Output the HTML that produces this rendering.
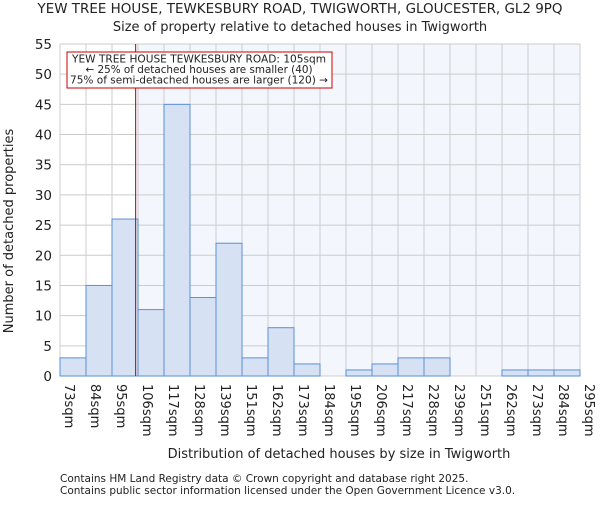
<!DOCTYPE html>
<html><head><meta charset="utf-8"><style>
body{margin:0;background:#fff}
svg text{font-family:"DejaVu Sans","Liberation Sans",sans-serif;fill:#222}
</style></head><body>
<svg id="c" width="600" height="500" xmlns="http://www.w3.org/2000/svg">
<text x="300" y="13" font-size="13" text-anchor="middle" textLength="525" lengthAdjust="spacingAndGlyphs">YEW TREE HOUSE, TEWKESBURY ROAD, TWIGWORTH, GLOUCESTER, GL2 9PQ</text>
<text x="300" y="31" font-size="13" text-anchor="middle">Size of property relative to detached houses in Twigworth</text>
<g id="plot"></g>
<text x="339" y="458" font-size="13" text-anchor="middle">Distribution of detached houses by size in Twigworth</text>
<text transform="translate(13,231) rotate(-90)" font-size="13" text-anchor="middle">Number of detached properties</text>
<text x="60" y="482" font-size="10.5">Contains HM Land Registry data © Crown copyright and database right 2025.</text>
<text x="60" y="494" font-size="10.5">Contains public sector information licensed under the Open Government Licence v3.0.</text>
</svg>
<script>
const labels=["73sqm","84sqm","95sqm","106sqm","117sqm","128sqm","139sqm","151sqm","162sqm","173sqm","184sqm","195sqm","206sqm","217sqm","228sqm","239sqm","251sqm","262sqm","273sqm","284sqm","295sqm"];
const counts=[3,15,26,11,45,13,22,3,8,2,0,1,2,3,3,0,0,1,1,1];
const yTicks=[0,5,10,15,20,25,30,35,40,45,50,55];
const subjectSize=105;
const edges=[73,84,95,106,117,128,139,151,162,173,184,195,206,217,228,239,251,262,273,284,295];
const X0=60,X1=580,Y0=376,Y1=44,YMAX=55;
const n=counts.length,bw=(X1-X0)/n;
const xi=i=>X0+i*bw;
const y=v=>Y0-(v/YMAX)*(Y0-Y1);
function sizeX(s){for(let i=0;i<edges.length-1;i++){if(s<=edges[i+1])return xi(i)+bw*(s-edges[i])/(edges[i+1]-edges[i]);}return X1;}
const NS="http://www.w3.org/2000/svg",g=document.getElementById('plot');
function mk(t,a){const e=document.createElementNS(NS,t);for(const k in a)e.setAttribute(k,a[k]);g.appendChild(e);return e;}
const lx=sizeX(subjectSize);
let e=mk('rect',{x:X0,y:Y1,width:X1-X0,height:Y0-Y1,fill:'#fff'});


e=mk('rect',{x:lx,y:Y1,width:X1-lx,height:Y0-Y1,fill:'#f3f6fd'});


yTicks.forEach(t=>{
 e=mk('line',{x1:X0,x2:X1,y1:y(t),y2:y(t),stroke:'#cccccc','stroke-width':1});
 
 
 e=mk('text',{x:X0-8,y:y(t)+5,'font-size':13.5,'text-anchor':'end'});e.textContent=t;
 
 
});
labels.forEach((l,i)=>{
 e=mk('line',{x1:xi(i),x2:xi(i),y1:Y1,y2:Y0,stroke:'#cccccc','stroke-width':1});
 
 
 e=mk('text',{x:0,y:0,'font-size':13,'text-anchor':'start'});e.textContent=l;
 e.setAttribute('transform',`translate(${xi(i)+5},384) rotate(90)`);
 
 
});
counts.forEach((c,i)=>{
 if(c<=0)return;
 e=mk('rect',{x:xi(i),y:y(c),width:bw,height:Y0-y(c),fill:'#d6e2f4',stroke:'#5b8fd6','stroke-width':1});
 
 
});
e=mk('line',{x1:lx,x2:lx,y1:Y1,y2:Y0,stroke:'#c00000','stroke-width':1});


e=mk('rect',{x:67,y:52,width:265,height:36,fill:'#fff',stroke:'#cc0000','stroke-width':1});


const ann=["YEW TREE HOUSE TEWKESBURY ROAD: 105sqm","← 25% of detached houses are smaller (40)","75% of semi-detached houses are larger (120) →"];
const annW=[254,227,258];
ann.forEach((t,i)=>{e=mk('text',{x:199,y:62.5+i*10.5,'font-size':10.5,'text-anchor':'middle',textLength:annW[i],lengthAdjust:'spacingAndGlyphs'});e.textContent=t;
 
 });
</script>
</body></html>
